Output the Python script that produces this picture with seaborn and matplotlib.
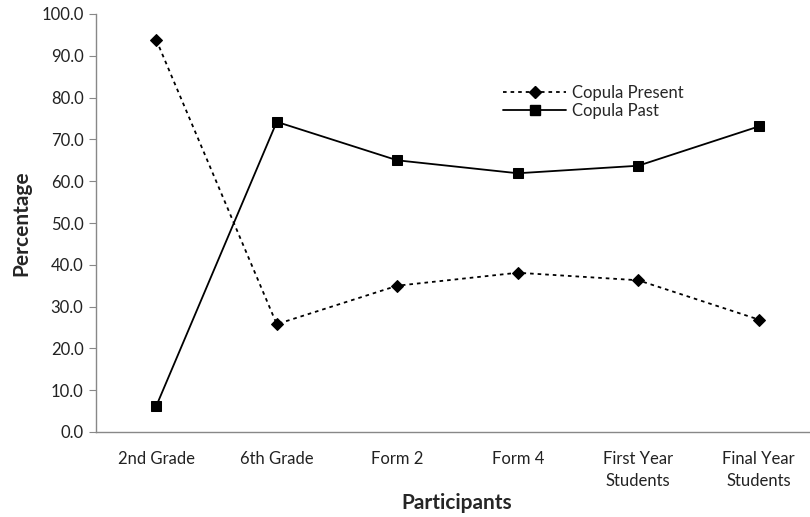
import matplotlib
matplotlib.use("Agg")
import matplotlib.pyplot as plt
import seaborn as sns
import pandas as pd
import numpy as np
from matplotlib.lines import Line2D

categories = ["2nd Grade", "6th Grade", "Form 2", "Form 4", "First Year\nStudents", "Final Year\nStudents"]
copula_present = [93.8, 25.8, 35.0, 38.1, 36.3, 26.9]
copula_past = [6.2, 74.2, 65.0, 61.9, 63.7, 73.1]
y_ticks = [0, 10, 20, 30, 40, 50, 60, 70, 80, 90, 100]

sns.set_theme(style="white")
plt.rcParams["font.family"] = ["Lato", "DejaVu Sans"]

pos = np.arange(len(categories))
df = pd.DataFrame({
    "pos": np.concatenate([pos, pos]),
    "value": copula_present + copula_past,
    "series": ["Copula Present"] * len(pos) + ["Copula Past"] * len(pos),
})

fig = plt.figure(figsize=(8.1, 5.17), dpi=100)
ax = fig.add_axes([96 / 810, 85 / 517, 723 / 810, 418 / 517])

sns.lineplot(data=df[df.series == "Copula Present"], x="pos", y="value", ax=ax,
             color="black", linewidth=1.3, linestyle=(0, (2, 2.2)),
             marker="D", markersize=6.5, markeredgecolor="black", sort=False, legend=False)
sns.lineplot(data=df[df.series == "Copula Past"], x="pos", y="value", ax=ax,
             color="black", linewidth=1.3, linestyle="-",
             marker="s", markersize=7, markeredgecolor="black", sort=False, legend=False)

ax.set_xlim(-0.5, len(categories) - 0.5)
ax.set_ylim(0, 100)
ax.set_yticks(y_ticks)
ax.set_yticklabels([f"{v:.1f}" for v in y_ticks], fontsize=12, color="#222222")
ax.set_xticks(pos)
ax.set_xticklabels(categories, fontsize=12, color="#222222", linespacing=1.4)
ax.set_xticks(np.arange(len(categories) + 1) - 0.5, minor=True)
ax.tick_params(axis="x", which="major", length=0, pad=14)
ax.tick_params(axis="x", which="minor", length=5, width=0.8, color="#888888", direction="out")
ax.tick_params(axis="y", which="major", length=5, width=0.8, color="#888888", direction="out",
               left=True, pad=4)

for side in ["top", "right"]:
    ax.spines[side].set_visible(False)
for side in ["left", "bottom"]:
    ax.spines[side].set_color("#888888")
    ax.spines[side].set_linewidth(1.0)

ax.set_xlabel("")
fig.text(457 / 810, 1 - 503 / 517, "Participants", ha="center", va="center",
         fontsize=15, fontweight="bold")
ax.set_ylabel("Percentage", fontsize=15, fontweight="bold", labelpad=7)

handles = [
    Line2D([], [], color="black", linewidth=1.3, linestyle=(0, (2, 2.2)), marker="D", markersize=6.5),
    Line2D([], [], color="black", linewidth=1.3, linestyle="-", marker="s", markersize=7),
]
fig.legend(handles, ["Copula Present", "Copula Past"], loc="upper left",
           bbox_to_anchor=(503 / 810, 1 - 85 / 517), frameon=False, fontsize=12,
           handlelength=3.8, handletextpad=0.35, labelspacing=0.1, borderpad=0,
           borderaxespad=0)

fig.savefig("out.png", dpi=100)
